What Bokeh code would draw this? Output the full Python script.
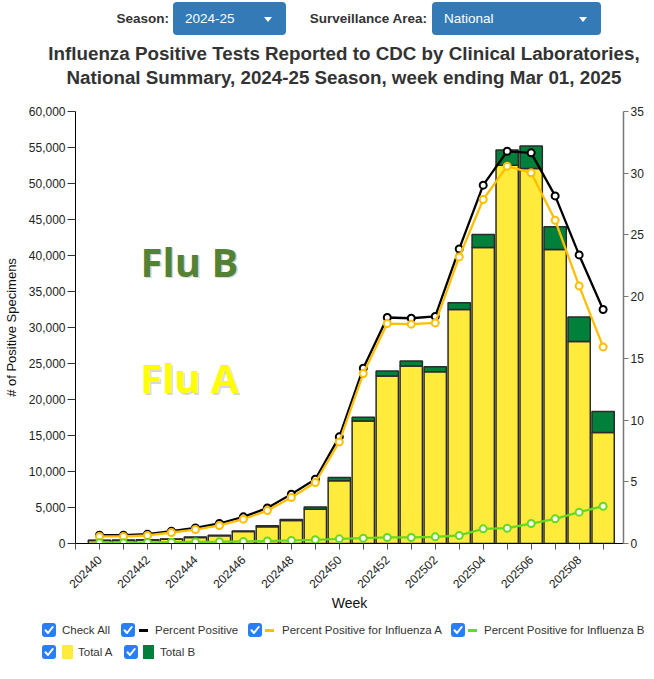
import math
from bokeh.plotting import figure
from bokeh.models import (Range1d, LinearAxis, FixedTicker, NumeralTickFormatter,
                          Label, Div, ColumnDataSource)
from bokeh.layouts import column
from bokeh.embed import file_html
from bokeh.resources import INLINE

# ---------------- data ----------------
weeks = ["202440", "202441", "202442", "202443", "202444", "202445", "202446",
         "202447", "202448", "202449", "202450", "202451", "202452", "202501",
         "202502", "202503", "202504", "202505", "202506", "202507", "202508",
         "202509"]
total_a = [400, 420, 470, 580, 850, 1080, 1660, 2340, 3190, 4760, 8700, 17000,
           23250, 24650, 23850, 32500, 41100, 52550, 52100, 40850, 28050, 15400]
total_b = [60, 60, 60, 60, 70, 70, 90, 110, 140, 320, 450, 550,
           700, 700, 700, 950, 1800, 2100, 3100, 3150, 3400, 2950]
pct_pos = [0.67, 0.67, 0.75, 1.0, 1.26, 1.62, 2.16, 2.88, 4.0, 5.21, 8.64, 14.2,
           18.31, 18.25, 18.4, 23.87, 29.03, 31.78, 31.65, 28.16, 23.38, 18.96]
pct_a = [0.57, 0.57, 0.65, 0.89, 1.13, 1.46, 1.97, 2.67, 3.73, 4.94, 8.23, 13.77,
         17.82, 17.77, 17.87, 23.22, 27.87, 30.57, 30.03, 26.19, 20.87, 15.93]
pct_b = [0.06, 0.07, 0.08, 0.1, 0.12, 0.14, 0.17, 0.2, 0.25, 0.3, 0.38, 0.43,
         0.49, 0.49, 0.54, 0.65, 1.19, 1.24, 1.62, 2.0, 2.54, 3.02]
count_ticks = list(range(0, 60001, 5000))
pct_ticks = list(range(0, 36, 5))

FONT = "Liberation Sans"
YELLOW = "#ffeb3b"
GREEN = "#00803a"
LINE_A = "#ffbf00"
LINE_B = "#66d922"

x = list(range(len(weeks)))
ab_top = [a + b for a, b in zip(total_a, total_b)]
src = ColumnDataSource(dict(x=x, a=total_a, ab=ab_top, pp=pct_pos, pa=pct_a, pb=pct_b))

# ---------------- figure ----------------
p = figure(frame_width=548, frame_height=432, output_backend="svg", toolbar_location=None,
           x_range=Range1d(-1, 21.85), y_range=Range1d(0, 60000),
           min_border_left=68, min_border_right=22, min_border_top=21, min_border_bottom=70,
           x_axis_location=None, y_axis_location=None)
p.outline_line_color = None
p.xgrid.visible = False
p.ygrid.visible = False
p.background_fill_color = "white"
p.border_fill_color = "white"
p.extra_y_ranges = {"pct": Range1d(0, 35)}

# left axis
yl = LinearAxis(ticker=FixedTicker(ticks=count_ticks), formatter=NumeralTickFormatter(format="0,0"),
                axis_label="# of Positive Specimens")
# bottom axis
xt = [-1] + x
overrides = {i: "" for i in xt}
for i in x:
    if i % 2 == 0:
        overrides[i] = weeks[i]
xb = LinearAxis(ticker=FixedTicker(ticks=xt), major_label_overrides=overrides,
                axis_label="Week", major_label_orientation=math.pi / 4)
# right axis
yr = LinearAxis(y_range_name="pct", ticker=FixedTicker(ticks=pct_ticks))

for ax in (yl, xb, yr):
    ax.major_label_text_font = FONT
    ax.major_label_text_font_size = "12px"
    ax.major_label_text_color = "#222222"
    ax.axis_label_text_font = FONT
    ax.axis_label_text_font_style = "normal"
    ax.axis_label_text_color = "#111111"
    ax.minor_tick_line_color = None
    ax.major_tick_in = 0

yl.axis_line_color = "black"
yl.major_tick_line_color = "#333333"
yl.major_tick_out = 8
yl.major_label_standoff = 2
yl.axis_label_standoff = 7
yl.axis_label_text_font_size = "13px"

xb.axis_line_color = "black"
xb.major_tick_line_color = "#555555"
xb.major_tick_out = 6
xb.major_label_standoff = 8
xb.axis_label_standoff = 0
xb.axis_label_text_font_size = "14px"

yr.axis_line_color = "#777777"
yr.axis_line_width = 1.5
yr.major_tick_line_color = "#777777"
yr.major_tick_out = 5
yr.major_label_standoff = 2

p.add_layout(yl, "left")
p.add_layout(xb, "below")
p.add_layout(yr, "right")

# bars
p.vbar(x="x", width=0.93, bottom=0, top="a", source=src, fill_color=YELLOW,
       line_color="#2b2b2b", line_width=1.5)
p.vbar(x="x", width=0.93, bottom="a", top="ab", source=src, fill_color=GREEN,
       line_color="#2b2b2b", line_width=1.5)

# lines
for col, color in (("pp", "black"), ("pa", LINE_A), ("pb", LINE_B)):
    p.line(x="x", y=col, source=src, y_range_name="pct", line_color=color, line_width=2.3)
    p.scatter(x="x", y=col, source=src, y_range_name="pct", marker="circle", size=7,
              fill_color="white", line_color=color, line_width=2)

# Flu labels
for txt, yv, col in (("Flu B", 39200, "#548235"), ("Flu A", 23000, "#ffff00")):
    p.add_layout(Label(x=3.75, y=yv, text=txt, text_font="Open Sans", text_font_style="bold",
                       text_font_size="40px", text_color="#999999", text_alpha=0.4,
                       text_align="center", text_baseline="middle", x_offset=1.5, y_offset=-1.5))
    p.add_layout(Label(x=3.75, y=yv, text=txt, text_font="Open Sans", text_font_style="bold",
                       text_font_size="40px", text_color=col,
                       text_align="center", text_baseline="middle"))

# ---------------- top controls ----------------
caret = ('<span style="position:absolute;right:14px;top:15px;width:0;height:0;'
         'border-left:4px solid transparent;border-right:4px solid transparent;'
         'border-top:5px solid white;"></span>')
box = ('position:absolute;top:2px;height:33px;line-height:33px;background:#337ab7;'
       'border-radius:4px;color:white;font-size:13.5px;padding-left:12px;box-sizing:border-box;')
lab = ('position:absolute;top:2px;height:33px;line-height:33px;text-align:right;'
       'font-weight:bold;font-size:13.5px;color:#333;white-space:nowrap;')
top_html = (
    f'<div style="position:relative;width:654px;height:38px;font-family:\'{FONT}\';">'
    f'<span style="{lab}left:0;width:169px;">Season:</span>'
    f'<span style="{box}left:173px;width:113px;">2024-25{caret}</span>'
    f'<span style="{lab}left:200px;width:227px;">Surveillance Area:</span>'
    f'<span style="{box}left:432px;width:169px;">National{caret}</span>'
    '</div>'
)
top_div = Div(text=top_html, width=654, height=38, margin=0)

title_html = (
    f'<div style="margin-left:34px;width:620px;text-align:center;font-family:\'{FONT}\';'
    'font-weight:bold;font-size:18.8px;line-height:24px;color:#333;padding-top:4px;white-space:nowrap;">'
    'Influenza Positive Tests Reported to CDC by Clinical Laboratories,<br>'
    'National Summary, 2024-25 Season, week ending Mar 01, 2025</div>'
)
title_div = Div(text=title_html, width=654, height=52, margin=0)

# ---------------- legend ----------------
def cbox(left, top):
    return (f'<svg style="position:absolute;left:{left}px;top:{top - 7}px" width="14" height="14">'
            '<rect width="14" height="14" rx="3" fill="#2a7ef5"/>'
            '<path d="M3.5 7.3 L6 10 L10.7 4" stroke="white" stroke-width="2" fill="none" '
            'stroke-linecap="round" stroke-linejoin="round"/></svg>')

def dash(left, top, color):
    return (f'<span style="position:absolute;left:{left}px;top:{top - 1}px;width:9px;height:2.5px;'
            f'background:{color};"></span>')

def square(left, top, color):
    return (f'<span style="position:absolute;left:{left}px;top:{top - 7}px;width:11px;height:14px;'
            f'background:{color};"></span>')

def txt(left, top, s):
    return (f'<span style="position:absolute;left:{left}px;top:{top - 8}px;line-height:16px;'
            f'font-size:11.5px;color:#333;white-space:nowrap;">{s}</span>')

r1, r2 = 16, 38
leg = [
    cbox(42, r1), txt(62, r1, "Check All"),
    cbox(121, r1), dash(139, r1, "black"), txt(155, r1, "Percent Positive"),
    cbox(248, r1), dash(265, r1, LINE_A), txt(282, r1, "Percent Positive for Influenza A"),
    cbox(451, r1), dash(468, r1, LINE_B), txt(484, r1, "Percent Positive for Influenza B"),
    cbox(42, r2), square(62, r2, YELLOW), txt(78, r2, "Total A"),
    cbox(124, r2), square(143, r2, GREEN), txt(160, r2, "Total B"),
]
legend_html = (f'<div style="position:relative;width:654px;height:50px;font-family:\'{FONT}\';">'
               + "".join(leg) + '</div>')
legend_div = Div(text=legend_html, width=654, height=50, margin=0)

layout = column(top_div, title_div, p, legend_div, spacing=0)

with open("out.html", "w") as f:
    f.write(file_html(layout, INLINE))
